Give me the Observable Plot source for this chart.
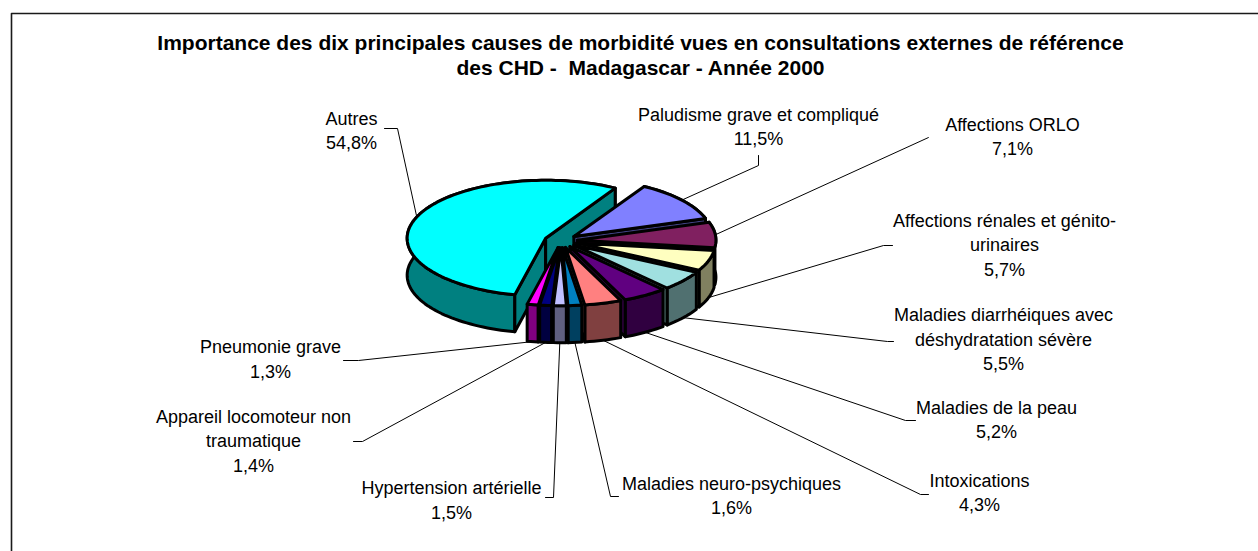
<!DOCTYPE html>
<html lang="fr">
<head>
<meta charset="utf-8">
<title>Causes de morbidité</title>
<script src="https://cdn.jsdelivr.net/npm/d3@7"></script>
<script src="https://cdn.jsdelivr.net/npm/@observablehq/plot@0.6"></script>
<style>
html,body{margin:0;padding:0;background:#fff}
svg{display:block}
</style>
</head>
<body>
<div id="chart"></div>
<script>
// --- data ---
const titleLines = "Importance des dix principales causes de morbidité vues en consultations externes de référence\ndes CHD -  Madagascar - Année 2000";
const categories = [
  "Paludisme grave et compliqué",
  "Affections ORLO",
  "Affections rénales et génito-\nurinaires",
  "Maladies diarrhéiques avec\ndéshydratation sévère",
  "Maladies de la peau",
  "Intoxications",
  "Maladies neuro-psychiques",
  "Hypertension artérielle",
  "Appareil locomoteur non\ntraumatique",
  "Pneumonie grave",
  "Autres"
];
const values = [11.5, 7.1, 5.7, 5.5, 5.2, 4.3, 1.6, 1.5, 1.4, 1.3, 54.8];
const topColors = ["#8080ff","#802060","#ffffc0","#a0e0e0","#600080","#ff8080","#0080c0","#c0c0ff","#000080","#ff00ff","#00ffff"];
const sideColors = ["#404080","#401030","#808060","#507070","#300040","#804040","#004060","#606080","#000040","#800080","#008080"];

// --- layout (pixels), kept apart from the data ---
const W = 1258, H = 551;
const pie = {cx: 560.5, cy: 240.3, rx: 138.5, ry: 58, depth: 37, explode: 16.5, start: 30.5};
const labelX = [758, 1012, 1004, 1003, 996, 979, 731, 451, 253, 270, 351];
const labelY = [124.5, 134.5, 243, 337.5, 417.5, 490.5, 493.5, 498, 439, 357, 128.5];
const elbowStartX = [758, 928, 892, 893, 915, 928, 618, 545, 353, 343, 384];
const elbowStartY = [155, 137, 245, 341, 420, 494, 496, 497, 441, 360, 128];
const elbowEndX = [758, 928, 883, 887, 905, 920, 610, 553, 362, 358, 397];
const elbowEndY = [165, 137, 245, 341, 420, 494, 496, 497, 441, 360, 128];
const fontSize = 18, titleSize = 21;

// --- geometry derived from the values ---
const rad = d => d * Math.PI / 180;
let acc = pie.start;
const slices = values.map((v, i) => {
  const a0 = acc, a1 = acc + v * 3.6; acc = a1;
  const mid = (a0 + a1) / 2;
  return {i, v, a0, a1, mid,
    ax: pie.cx + pie.explode * Math.sin(rad(mid)),
    ay: pie.cy - pie.explode * Math.cos(rad(mid)) * pie.ry / pie.rx};
});
const rimX = (s, a) => s.ax + pie.rx * Math.sin(rad(a));
const rimY = (s, a) => s.ay - pie.ry * Math.cos(rad(a));
const arc = (s, a0, a1, dy = 0) => {
  const n = Math.max(2, Math.ceil(Math.abs(a1 - a0) / 2));
  return d3.range(n + 1).map(k => {
    const a = a0 + (a1 - a0) * k / n;
    return [rimX(s, a), rimY(s, a) + dy];
  });
};
const d = pie.depth;
const shapes = [];
const add = (id, pts, fill) => {
  [...pts, pts[0]].forEach(([x, y]) => shapes.push({id, x, y, fill}));
};
// painter's order: the big slice first, then from the back towards the front
const order = [...slices].sort((p, q) =>
  (q.v > 50) - (p.v > 50) || Math.abs(q.mid - 180) - Math.abs(p.mid - 180));
for (const s of order) {
  const key = `s${s.i}`;
  add(key + "wall", [...arc(s, s.a0, s.a1), ...arc(s, s.a1, s.a0, d)], sideColors[s.i]);
  if (Math.sin(rad(s.a0)) < 0)
    add(key + "cut0", [[s.ax, s.ay], [rimX(s, s.a0), rimY(s, s.a0)], [rimX(s, s.a0), rimY(s, s.a0) + d], [s.ax, s.ay + d]], sideColors[s.i]);
  if (Math.sin(rad(s.a1)) > 0)
    add(key + "cut1", [[s.ax, s.ay], [rimX(s, s.a1), rimY(s, s.a1)], [rimX(s, s.a1), rimY(s, s.a1) + d], [s.ax, s.ay + d]], sideColors[s.i]);
  add(key + "top", [[s.ax, s.ay], ...arc(s, s.a0, s.a1)], topColors[s.i]);
}

// leader lines: from the label elbow to the rim of the slice at its mid angle
const leaders = slices.flatMap(s => {
  const m = s.mid % 360;
  const dy = Math.cos(rad(m)) < -0.1 ? d : 0;
  return [
    {id: s.i, x: elbowStartX[s.i], y: elbowStartY[s.i]},
    {id: s.i, x: elbowEndX[s.i], y: elbowEndY[s.i]},
    {id: s.i, x: rimX(s, m), y: rimY(s, m) + dy}
  ];
});

const labels = slices.map(s => ({
  x: labelX[s.i], y: labelY[s.i],
  text: `${categories[s.i]}\n${s.v.toFixed(1).replace(".", ",")}%`
}));

const frame = [{x: W, y: 13}, {x: 11, y: 13}, {x: 11, y: H}];

const chart = Plot.plot({
  width: W, height: H,
  margin: 0,
  x: {domain: [0, W], range: [0, W], axis: null},
  y: {domain: [0, H], range: [0, H], axis: null},
  color: {type: "identity"},
  style: {background: "#fff", fontFamily: "'Liberation Sans', Arial, sans-serif"},
  marks: [
    Plot.line(frame, {x: "x", y: "y", stroke: "#1a1a1a", strokeWidth: 1.6}),
    Plot.line(leaders, {x: "x", y: "y", z: "id", stroke: "#000", strokeWidth: 1}),
    Plot.line(shapes, {x: "x", y: "y", z: "id", fill: "fill", stroke: "#000", strokeWidth: 3, strokeLinejoin: "round"}),
    Plot.text(labels, {x: "x", y: "y", text: "text", fontSize, lineHeight: 24.6 / fontSize, fill: "#000", textAnchor: "middle"}),
    Plot.text([titleLines], {x: () => 640, y: () => 54, text: d => d, fontSize: titleSize, fontWeight: "bold", lineHeight: 25.5 / titleSize, fill: "#000", textAnchor: "middle"})
  ]
});
document.getElementById("chart").append(chart);
</script>
</body>
</html>
